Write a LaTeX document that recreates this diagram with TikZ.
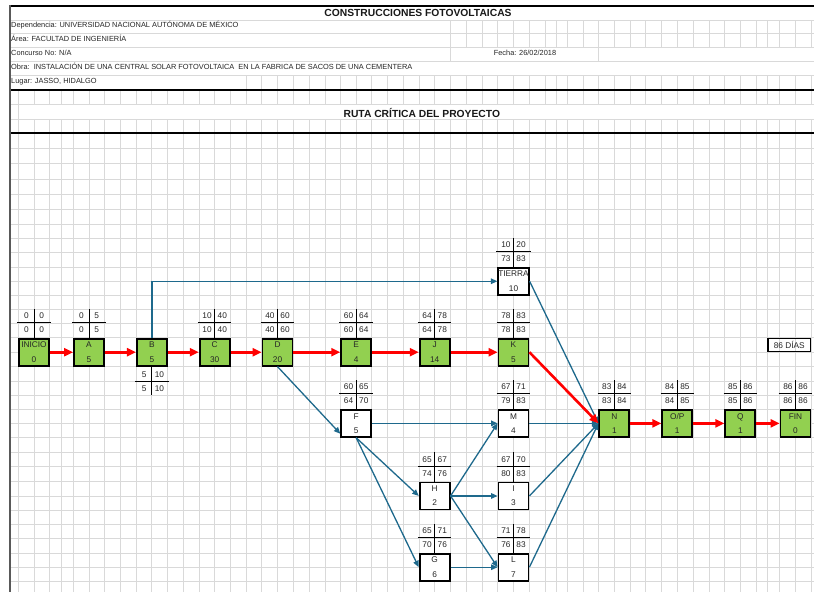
\documentclass[tikz,border=0pt]{standalone}
\usepackage{fontspec}
\setmainfont{Liberation Sans}
\usetikzlibrary{arrows.meta,calc}
\definecolor{gridc}{HTML}{D9D9D9}
\definecolor{critfill}{HTML}{92D050}
\definecolor{netblue}{HTML}{1E698C}
\definecolor{critred}{HTML}{FF0000}
\def\colsA{18.3,34,49.7,61.7,73.3,89,104.7,120.7,136,151.7,167.7,183.3,199,214.3,230}
\def\colsB{246,261.7,277.3,293.3,309,325,340.7,356,371.7,387.3,403.3,419,434.7}
\def\colsC{450.3,466.3,482,497.7,513.3,529.3,545.3,556.3,567.3,583,598.7,614.3,630,645.7,661.3,677.3,693.3,709,724.7,740.3,756,767.3,779.7,795.3,811.3}
\newcommand\eslabUp[5]{%
  \draw[labline] (#1.north) -- ++(0,-29.2);
  \draw[labline] ($(#1.north west)+(-0.9,-15.2)$) -- ($(#1.north east)+(0.9,-15.2)$);
  \node[num] (#1-es) at ($(#1.north)+(-7.6,-22.2)$) {#2};
  \node[num] (#1-ef) at ($(#1.north)+(7.6,-22.2)$) {#3};
  \node[num] (#1-ls) at ($(#1.north)+(-7.6,-8.1)$) {#4};
  \node[num] (#1-lf) at ($(#1.north)+(7.6,-8.1)$) {#5};
}
\newcommand\eslabDn[5]{%
  \draw[labline] (#1.south) -- ++(0,28.6);
  \draw[labline] ($(#1.south west)+(-0.9,15.2)$) -- ($(#1.south east)+(0.9,15.2)$);
  \node[num] (#1-es) at ($(#1.south)+(-7.6,8.2)$) {#2};
  \node[num] (#1-ef) at ($(#1.south)+(7.6,8.2)$) {#3};
  \node[num] (#1-ls) at ($(#1.south)+(-7.6,22.4)$) {#4};
  \node[num] (#1-lf) at ($(#1.south)+(7.6,22.4)$) {#5};
}
\begin{document}
\begin{tikzpicture}[x=1pt,y=-1pt,
  gridline/.style={draw=gridc,line width=0.9pt},
  hdr/.style={inner sep=0pt,font=\fontsize{7.4}{9}\selectfont,text=black!85},
  ttl/.style={inner sep=0pt,font=\bfseries\fontsize{10.3}{12}\selectfont,text=black!90},
  actbox/.style={draw=black,line width=1.8pt,minimum width=30pt,minimum height=27pt,inner sep=0pt,align=center,font=\fontsize{8.3}{14.3}\selectfont,text=black!85},
  critbox/.style={actbox,fill=critfill},
  slackbox/.style={actbox,fill=white},
  num/.style={inner sep=0pt,font=\fontsize{8.3}{10}\selectfont,text=black!85},
  labline/.style={draw=black,line width=0.8pt},
  critarrow/.style={draw=critred,line width=2.6pt,-{Triangle[length=9pt,width=8pt]}},
  slackarrow/.style={draw=netblue,line width=1.3pt,-{Triangle[length=6.5pt,width=5.5pt]}},
  daysbox/.style={draw=black,line width=1.5pt,minimum width=42.5pt,minimum height=13pt,inner sep=0pt,font=\fontsize{8.3}{10}\selectfont,text=black!85}
]
\useasboundingbox (0,0) rectangle (814,592);
\fill[white] (0,0) rectangle (814,592);
% ---- grid: horizontal lines
\foreach \y in {20,33.8,47.8,61.8,75.8,104.3,119,148.6,163.9,179.2,194.5,209.8,224.3,238.7,252.9,267.1,281.2,295.4,309.5,323.5,337.7,352.3,366.7,381,395,409,423.3,437.7,452.3,466.7,481.7,496,510.2,524.5,538.8,553,567.2,581.4}
  \draw[gridline] (10,\y) -- (814,\y);
% ---- grid: vertical lines
\foreach \x in \colsC {\draw[gridline] (\x,20) -- (\x,47.8);}
\foreach \x in {450.3,598.7} {\draw[gridline] (\x,47.8) -- (\x,61.8);}
\foreach \x in \colsB {\draw[gridline] (\x,75.8) -- (\x,90);}
\foreach \x in \colsC {\draw[gridline] (\x,75.8) -- (\x,90);}
\draw[gridline] (18.3,104.3) -- (18.3,119);
\foreach \x in \colsA {\draw[gridline] (\x,90) -- (\x,104.3); \draw[gridline] (\x,119) -- (\x,592);}
\foreach \x in \colsB {\draw[gridline] (\x,90) -- (\x,104.3); \draw[gridline] (\x,119) -- (\x,592);}
\foreach \x in \colsC {\draw[gridline] (\x,90) -- (\x,104.3); \draw[gridline] (\x,119) -- (\x,592);}
% ---- borders
\draw[black,line width=1.2pt] (10,6) -- (814,6);
\draw[black,line width=2pt] (10,90) -- (814,90);
\draw[black,line width=2pt] (10,133.3) -- (814,133.3);
\draw[black!65,line width=1.6pt] (10,5.4) -- (10,592);
% ---- header texts
\node[ttl,anchor=base] (title) at (418,16.7) {CONSTRUCCIONES FOTOVOLTAICAS};
\node[hdr,anchor=base west] (dep) at (11,27.4) {Dependencia: UNIVERSIDAD NACIONAL AUTÓNOMA DE MÉXICO};
\node[hdr,anchor=base west] (area) at (11,41.3) {Área: FACULTAD DE INGENIERÍA};
\node[hdr,anchor=base west] (conc) at (11,55.1) {Concurso No: N/A};
\node[hdr,anchor=base] (fecha) at (525,55.1) {Fecha: 26/02/2018};
\node[hdr,anchor=base west] (obra) at (11,69.3) {Obra:\ \ INSTALACIÓN DE UNA CENTRAL SOLAR FOTOVOLTAICA\ \ EN LA FABRICA DE SACOS DE UNA CEMENTERA};
\node[hdr,anchor=base west] (lugar) at (11,83.3) {Lugar: JASSO, HIDALGO};
\node[ttl,anchor=base] (ruta) at (421.8,117) {RUTA CRÍTICA DEL PROYECTO};
% ---- activity boxes
\node[critbox] (INICIO) at (34,352.2) {INICIO\\0};
\node[critbox] (A) at (89,352.2) {A\\5};
\node[critbox] (B) at (151.85,352.2) {B\\5};
\node[critbox] (C) at (214.65,352.2) {C\\30};
\node[critbox] (D) at (277.5,352.2) {D\\20};
\node[critbox] (E) at (356.2,352.2) {E\\4};
\node[critbox] (J) at (434.65,352.2) {J\\14};
\node[critbox] (K) at (513.5,352.2) {K\\5};
\node[slackbox] (TIERRA) at (513.5,281.25) {TIERRA\\10};
\node[slackbox] (F) at (356.2,423.35) {F\\5};
\node[slackbox] (M) at (513.5,423.35) {M\\4};
\node[critbox] (N) at (614.35,423.35) {N\\1};
\node[critbox] (OP) at (677.3,423.35) {O/P\\1};
\node[critbox] (Q) at (740.35,423.35) {Q\\1};
\node[critbox] (FIN) at (795.5,423.35) {FIN\\0};
\node[slackbox] (H) at (434.65,495.95) {H\\2};
\node[slackbox] (I) at (513.5,495.95) {I\\3};
\node[slackbox] (G) at (434.65,567.2) {G\\6};
\node[slackbox] (L) at (513.5,567.2) {L\\7};
\node[daysbox] (dias) at (789.3,345) {86 DÍAS};
% ---- time labels
\eslabUp{INICIO}{0}{0}{0}{0}
\eslabUp{A}{0}{5}{0}{5}
\eslabDn{B}{5}{10}{5}{10}
\eslabUp{C}{10}{40}{10}{40}
\eslabUp{D}{40}{60}{40}{60}
\eslabUp{E}{60}{64}{60}{64}
\eslabUp{J}{64}{78}{64}{78}
\eslabUp{K}{78}{83}{78}{83}
\eslabUp{TIERRA}{10}{20}{73}{83}
\eslabUp{F}{60}{65}{64}{70}
\eslabUp{M}{67}{71}{79}{83}
\eslabUp{N}{83}{84}{83}{84}
\eslabUp{OP}{84}{85}{84}{85}
\eslabUp{Q}{85}{86}{85}{86}
\eslabUp{FIN}{86}{86}{86}{86}
\eslabUp{H}{65}{67}{74}{76}
\eslabUp{I}{67}{70}{80}{83}
\eslabUp{G}{65}{71}{70}{76}
\eslabUp{L}{71}{78}{76}{83}
% ---- non-critical connectors
\draw[slackarrow] (B.north) |- (TIERRA.west);
\draw[slackarrow] (TIERRA.east) -- (N.west);
\draw[slackarrow] (D.south) -- ($(F.south west)+(0,-4)$);
\draw[slackarrow] (F.east) -- (M.west);
\draw[slackarrow] (F.south) -- (H.west);
\draw[slackarrow] (F.south) -- (G.west);
\draw[slackarrow] (H.east) -- (M.west);
\draw[slackarrow] (H.east) -- (I.west);
\draw[slackarrow] (H.east) -- (L.west);
\draw[slackarrow] (G.east) -- (L.west);
\draw[slackarrow] (M.east) -- (N.west);
\draw[slackarrow] (I.east) -- (N.west);
\draw[slackarrow] (L.east) -- (N.west);
% ---- critical connectors
\draw[critarrow] (INICIO.east) -- (A.west);
\draw[critarrow] (A.east) -- (B.west);
\draw[critarrow] (B.east) -- (C.west);
\draw[critarrow] (C.east) -- (D.west);
\draw[critarrow] (D.east) -- (E.west);
\draw[critarrow] (E.east) -- (J.west);
\draw[critarrow] (J.east) -- (K.west);
\draw[critarrow] (K.east) -- (N.west);
\draw[critarrow] (N.east) -- (OP.west);
\draw[critarrow] (OP.east) -- (Q.west);
\draw[critarrow] (Q.east) -- (FIN.west);
\end{tikzpicture}
\end{document}
